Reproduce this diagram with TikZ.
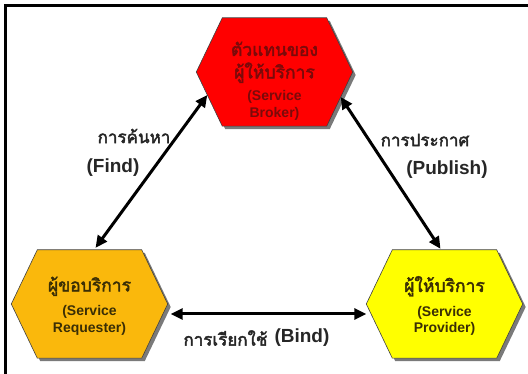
\documentclass[tikz,border=0pt]{standalone}
\usepackage{fontspec}
\setmainfont{Liberation Sans}
\newfontfamily\thaifont[Script=Thai, AutoFakeBold=2.5]{Loma}
\newcommand\thbig{\thaifont\bfseries\fontsize{17.5}{20}\selectfont}
\usetikzlibrary{arrows.meta,calc,backgrounds}

\definecolor{brokerred}{HTML}{FF0000}
\definecolor{reqorange}{HTML}{FAB80C}
\definecolor{provyellow}{HTML}{FFFF00}
\definecolor{brokertext}{HTML}{7A0A0A}
\definecolor{hexatext}{HTML}{3A2E05}
\definecolor{shadowgray}{HTML}{7A7A7A}

\begin{document}
\begin{tikzpicture}[x=1pt, y=-1pt,
  hexa/.style={rectangle, minimum width=156pt, minimum height=108pt, inner sep=0pt},
  hexpath/.style={insert path={(#1.west) -- ($(#1.north west)+(26,0)$) -- ($(#1.north east)+(-26,0)$)
    -- (#1.east) -- ($(#1.south east)+(-26,0)$) -- ($(#1.south west)+(26,0)$) -- cycle}},
  intext/.style={align=center, font=\bfseries\fontsize{14}{16.5}\selectfont, text=#1},
  thai/.style={font=\thaifont\bfseries\fontsize{17}{20}\selectfont, text=black!85},
  eng/.style={font=\bfseries\fontsize{19}{22}\selectfont, text=black!85},
  conn/.style={{Triangle[length=12pt,width=11pt]}-{Triangle[length=12pt,width=11pt]}, line width=3pt},
  frame/.style={line width=3pt}
]
\useasboundingbox (0,0) rectangle (528,374);

% frame
\draw[frame] (528,6) -- (5,6) -- (5,374);

% hexagon nodes
\node[hexa] (broker) at (274.5,72) {};
\node[hexa] (requester) at (89.5,304) {};
\node[hexa] (provider) at (444.5,304) {};

% hexagon texts
\node[intext=brokertext] (brokertxt) at ($(broker)+(0,9)$)
  {\thbig ตัวแทนของ\\[6pt]\thbig ผู้ให้บริการ\\[6pt] (Service\\Broker)};
\node[intext=hexatext] (requestertxt) at ($(requester)+(0,2)$)
  {\thbig ผู้ขอบริการ\\[8pt] (Service\\Requester)};
\node[intext=hexatext] (providertxt) at ($(provider)+(0,2)$)
  {\thbig ผู้ให้บริการ\\[8pt] (Service\\Provider)};

% hexagons with shadow
\begin{scope}[on background layer]
\foreach \n/\c in {broker/brokerred, requester/reqorange, provider/provyellow}{
  \fill[shadowgray, transform canvas={shift={(3pt,-3pt)}}] [hexpath=\n];
  \filldraw[fill=\c, draw=black!75, line width=0.6pt] [hexpath=\n];
}
\end{scope}

% arrows
\draw[conn] ($(requester.north)+(6,-2)$) -- ($(broker.west)+(11,23)$);
\draw[conn] ($(broker.east)+(-12,25)$) -- ($(provider.north)+(-4,-1)$);
\draw[conn] ($(requester.east)+(3,10)$) -- ($(provider.west)+(0,10)$);

% labels
\node[thai] (findth) at (134,136) {การค้นหา};
\node[eng] (finden) at (113,168) {(Find)};
\node[thai] (pubth) at (425,140) {การประกาศ};
\node[eng] (puben) at (447,170) {(Publish)};
\node[thai, anchor=east] (bindth) at (271,338) {การเรียกใช้};
\node[eng, anchor=west] (binden) at (bindth.east) {(Bind)};

\end{tikzpicture}
\end{document}
